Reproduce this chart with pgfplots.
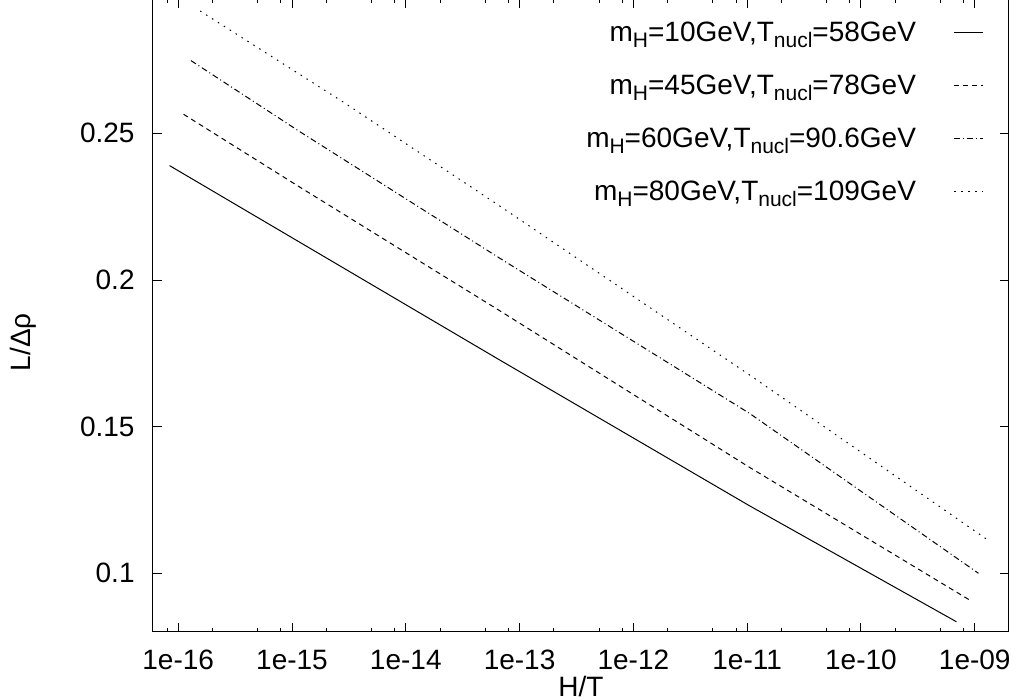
\documentclass[border=0pt]{standalone}
\usepackage{fontspec}
\setmainfont{Liberation Sans}
\usepackage{pgfplots}
\pgfplotsset{compat=1.18}
\newcommand\sub[1]{\raisebox{-3pt}{\fontsize{10.5}{12}\selectfont #1}}
\begin{document}
\begin{tikzpicture}
\path[use as bounding box] (-76.5pt,-34pt) rectangle (431.5pt,316pt);
\begin{axis}[
 at={(0,0)}, anchor=south west, scale only axis,
 width=428pt, height=316.5pt,
 xmode=log, xmin=6e-17, xmax=2e-9, ymin=0.08, ymax=0.2958,
 font=\fontsize{14}{16.8}\selectfont,
 axis line style={line width=0.5pt},
 every tick/.style={black, line width=0.5pt},
 tick align=inside, major tick length=4.5pt, minor tick length=2pt,
 xtick={1e-16,1e-15,1e-14,1e-13,1e-12,1e-11,1e-10,1e-9},
 xticklabels={1e-16,1e-15,1e-14,1e-13,1e-12,1e-11,1e-10,1e-09},
 minor xtick={8e-17,2e-16,5e-16,8e-16,2e-15,5e-15,8e-15,2e-14,5e-14,8e-14,2e-13,5e-13,8e-13,2e-12,5e-12,8e-12,2e-11,5e-11,8e-11,2e-10,5e-10,8e-10},
 ytick={0.1,0.15,0.2,0.25}, yticklabels={0.1,0.15,0.2,0.25},
 tick label style={inner sep=0pt},
 xticklabel shift=9pt, yticklabel shift=9pt,
 xlabel={H/T}, ylabel={L/Δρ},
 every axis x label/.style={at={(axis description cs:0.5,-0.086)}, anchor=center},
 every axis y label/.style={at={(axis description cs:-0.152,0.458)}, anchor=center, rotate=90},
 legend style={at={(axis description cs:0.9708,0.9637)}, anchor=north east, draw=none, fill=none,
   inner sep=0pt, outer sep=0pt, row sep=12.5pt, column sep=19pt,
   nodes={inner sep=0pt, outer sep=0pt, text height=10pt, text depth=4pt}},
 legend plot pos=right, legend cell align=right,
 legend image code/.code={\draw[#1] (0pt,1.5pt) -- (14.5pt,1.5pt);},
]
\addplot[black, line width=0.5pt] coordinates {
 (8.39e-17,0.2390) (1.178e-15,0.2128) (6.71e-14,0.1727) (1.052e-11,0.1230) (6.90e-10,0.0835)};
\addlegendentry{m\sub{H}=10GeV,T\sub{nucl}=58GeV}
\addplot[black, line width=0.5pt, dash pattern=on 2.5pt off 2pt] coordinates {
 (1.114e-16,0.2565) (1.178e-15,0.2316) (6.71e-14,0.1895) (1.052e-11,0.1361) (9.29e-10,0.0906)};
\addlegendentry{m\sub{H}=45GeV,T\sub{nucl}=78GeV}
\addplot[black, line width=0.5pt, dash pattern=on 3pt off 1.5pt on 0.5pt off 1.5pt] coordinates {
 (1.294e-16,0.2748) (1.178e-15,0.2505) (6.71e-14,0.2074) (1.052e-11,0.1545) (1.079e-9,0.1000)};
\addlegendentry{m\sub{H}=60GeV,T\sub{nucl}=90.6GeV}
\addplot[black, line width=0.5pt, dash pattern=on 0.75pt off 2.75pt] coordinates {
 (1.56e-16,0.2917) (2.81e-15,0.2607) (6.71e-14,0.2252) (1.052e-11,0.1676) (1.277e-9,0.1116)};
\addlegendentry{m\sub{H}=80GeV,T\sub{nucl}=109GeV}
\end{axis}
\end{tikzpicture}
\end{document}
